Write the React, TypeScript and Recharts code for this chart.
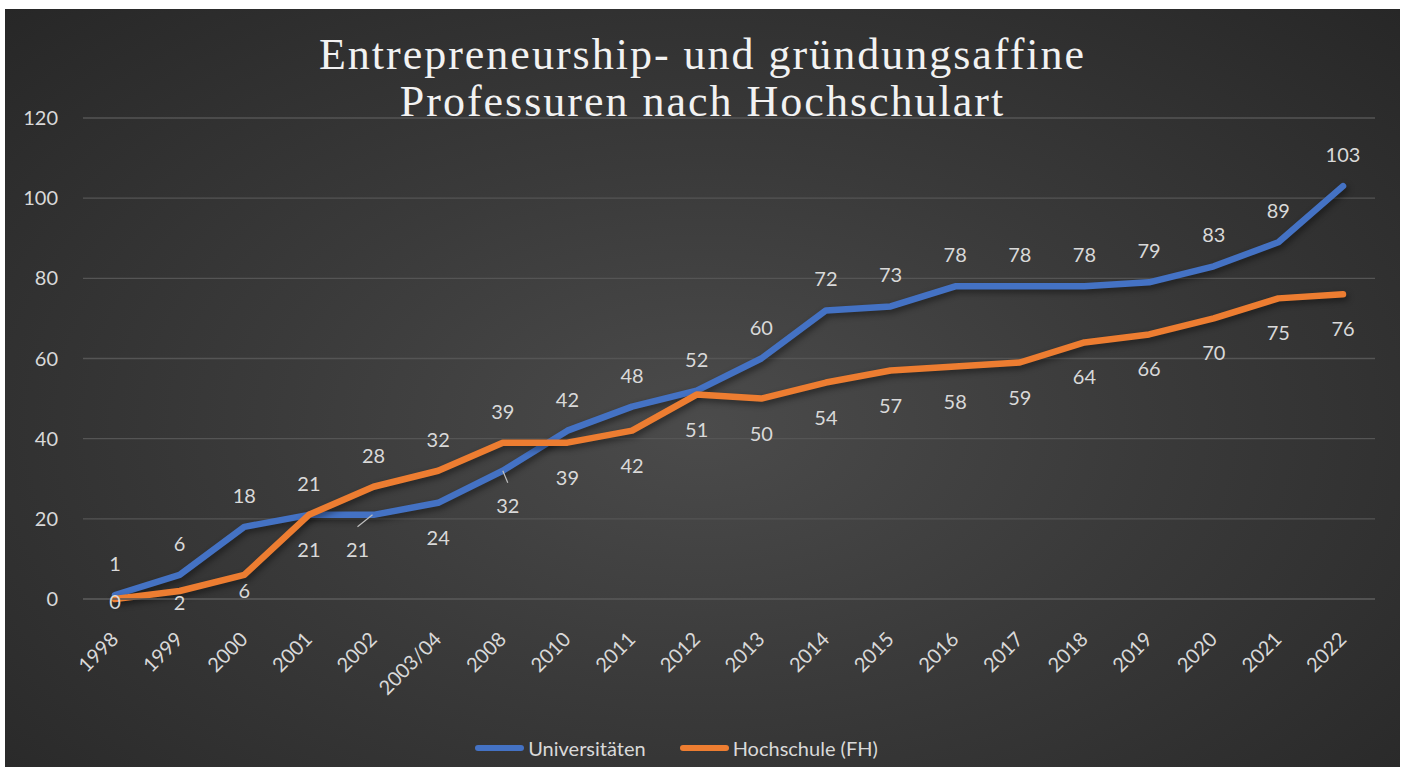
import { CartesianGrid, LabelList, Line, LineChart, XAxis, YAxis } from "recharts";

const years = [
  "1998", "1999", "2000", "2001", "2002", "2003/04", "2008", "2010", "2011", "2012",
  "2013", "2014", "2015", "2016", "2017", "2018", "2019", "2020", "2021", "2022",
];
const universitaeten = [1, 6, 18, 21, 21, 24, 32, 42, 48, 52, 60, 72, 73, 78, 78, 78, 79, 83, 89, 103];
const hochschulen = [0, 2, 6, 21, 28, 32, 39, 39, 42, 51, 50, 54, 57, 58, 59, 64, 66, 70, 75, 76];
const yTicks = [0, 20, 40, 60, 80, 100, 120];
// years where the labels swap sides (uni below, FH above)
const swappedYears = ["2001", "2002", "2003/04", "2008"];

const data = years.map((year, i) => ({
  year,
  uni: universitaeten[i],
  fh: hochschulen[i],
}));

const BLUE = "#4472C4";
const ORANGE = "#ED7D31";
const TEXT = "#d9d9d9";
const FONT = "Lato, 'Noto Sans', sans-serif";

const W = 1395;
const H = 758;

const makeLabel = (series: "uni" | "fh") => (props: any) => {
  const { x, y, value, index } = props;
  const swapped = swappedYears.includes(years[index]);
  const above = series === "uni" ? !swapped : swapped;
  let cy = above ? y - 32 : y + 34;
  let dx = 0;
  let leader = null;
  if (series === "fh" && index === 0) cy = y + 2;
  if (series === "fh" && index === 1) cy = y + 11;
  if (series === "fh" && index === 2) cy = y + 15;
  if (series === "uni" && index === 4) {
    dx = -16;
    leader = <line x1={x - 1} y1={y} x2={x - 16} y2={y + 12} stroke="#bfbfbf" strokeWidth={1.2} />;
  }
  if (series === "uni" && index === 6) {
    dx = 5;
    leader = <line x1={x} y1={y} x2={x + 5} y2={y + 12} stroke="#bfbfbf" strokeWidth={1.2} />;
  }
  return (
    <g>
      {leader}
      <text
        x={x + dx}
        y={cy}
        textAnchor="middle"
        dominantBaseline="central"
        fill={TEXT}
        fontSize={20}
        fontFamily={FONT}
      >
        {value}
      </text>
    </g>
  );
};

const XTick = (props: any) => {
  const { x, y, payload } = props;
  const ax = x - 1;
  const ay = y + 28;
  return (
    <text
      x={ax}
      y={ay}
      transform={`rotate(-45 ${ax} ${ay})`}
      textAnchor="end"
      dominantBaseline="central"
      fill={TEXT}
      fontSize={20}
      fontFamily={FONT}
    >
      {payload.value}
    </text>
  );
};

const legendItems = [
  { name: "Universitäten", color: BLUE },
  { name: "Hochschule (FH)", color: ORANGE },
];

export default function App() {
  return (
    <div style={{ position: "absolute", left: 0, top: 0, width: 1405, height: 767, background: "#fff" }}>
      <div
        style={{
          position: "absolute",
          left: 5,
          top: 9,
          width: W,
          height: H,
          background: "radial-gradient(ellipse at 50% 55%, #4b4b4b 0%, #3a3a3a 45%, #272727 100%)",
        }}
      >
        <div
          style={{
            position: "absolute",
            left: 0,
            top: 22,
            width: W,
            textAlign: "center",
            color: "#f2f2f2",
            fontFamily: "'Liberation Serif', 'DejaVu Serif', serif",
            fontSize: 44,
            letterSpacing: 2,
            lineHeight: "47px",
          }}
        >
          Entrepreneurship- und gründungsaffine
          <br />
          Professuren nach Hochschulart
        </div>
        <LineChart
          width={W}
          height={H}
          data={data}
          margin={{ top: 109, right: 25, bottom: 78, left: 18 }}
          style={{ position: "absolute", left: 0, top: 0 }}
        >
          <CartesianGrid vertical={false} stroke="#555555" strokeWidth={1.3} />
          <XAxis
            dataKey="year"
            interval={0}
            padding={{ left: 32, right: 32 }}
            tick={<XTick />}
            tickLine={false}
            axisLine={{ stroke: "#555555", strokeWidth: 1.3 }}
            height={90}
          />
          <YAxis
            domain={[0, 120]}
            ticks={yTicks}
            width={60}
            tickSize={0}
            tickMargin={25}
            tickLine={false}
            axisLine={false}
            tick={{ fill: TEXT, fontSize: 20, fontFamily: FONT }}
          />
          <Line
            dataKey="uni"
            name="Universitäten"
            stroke={BLUE}
            strokeWidth={6.5}
            dot={false}
            strokeLinejoin="round"
            strokeLinecap="round"
            style={{ filter: "drop-shadow(2px 3px 3px rgba(0,0,0,0.45))" }}
            isAnimationActive={false}
          >
            <LabelList dataKey="uni" content={makeLabel("uni")} />
          </Line>
          <Line
            dataKey="fh"
            name="Hochschule (FH)"
            stroke={ORANGE}
            strokeWidth={6.5}
            dot={false}
            strokeLinejoin="round"
            strokeLinecap="round"
            style={{ filter: "drop-shadow(2px 3px 3px rgba(0,0,0,0.45))" }}
            isAnimationActive={false}
          >
            <LabelList dataKey="fh" content={makeLabel("fh")} />
          </Line>
        </LineChart>
        <div
          style={{
            position: "absolute",
            left: -26,
            top: 727,
            width: W,
            display: "flex",
            justifyContent: "center",
            alignItems: "center",
            gap: 34,
            fontFamily: FONT,
            fontSize: 20,
            color: TEXT,
          }}
        >
          {legendItems.map((item) => (
            <div key={item.name} style={{ display: "flex", alignItems: "center" }}>
              <span
                style={{
                  display: "inline-block",
                  width: 49,
                  height: 6,
                  borderRadius: 3,
                  background: item.color,
                  marginRight: 4,
                }}
              />
              <span>{item.name}</span>
            </div>
          ))}
        </div>
      </div>
    </div>
  );
}
